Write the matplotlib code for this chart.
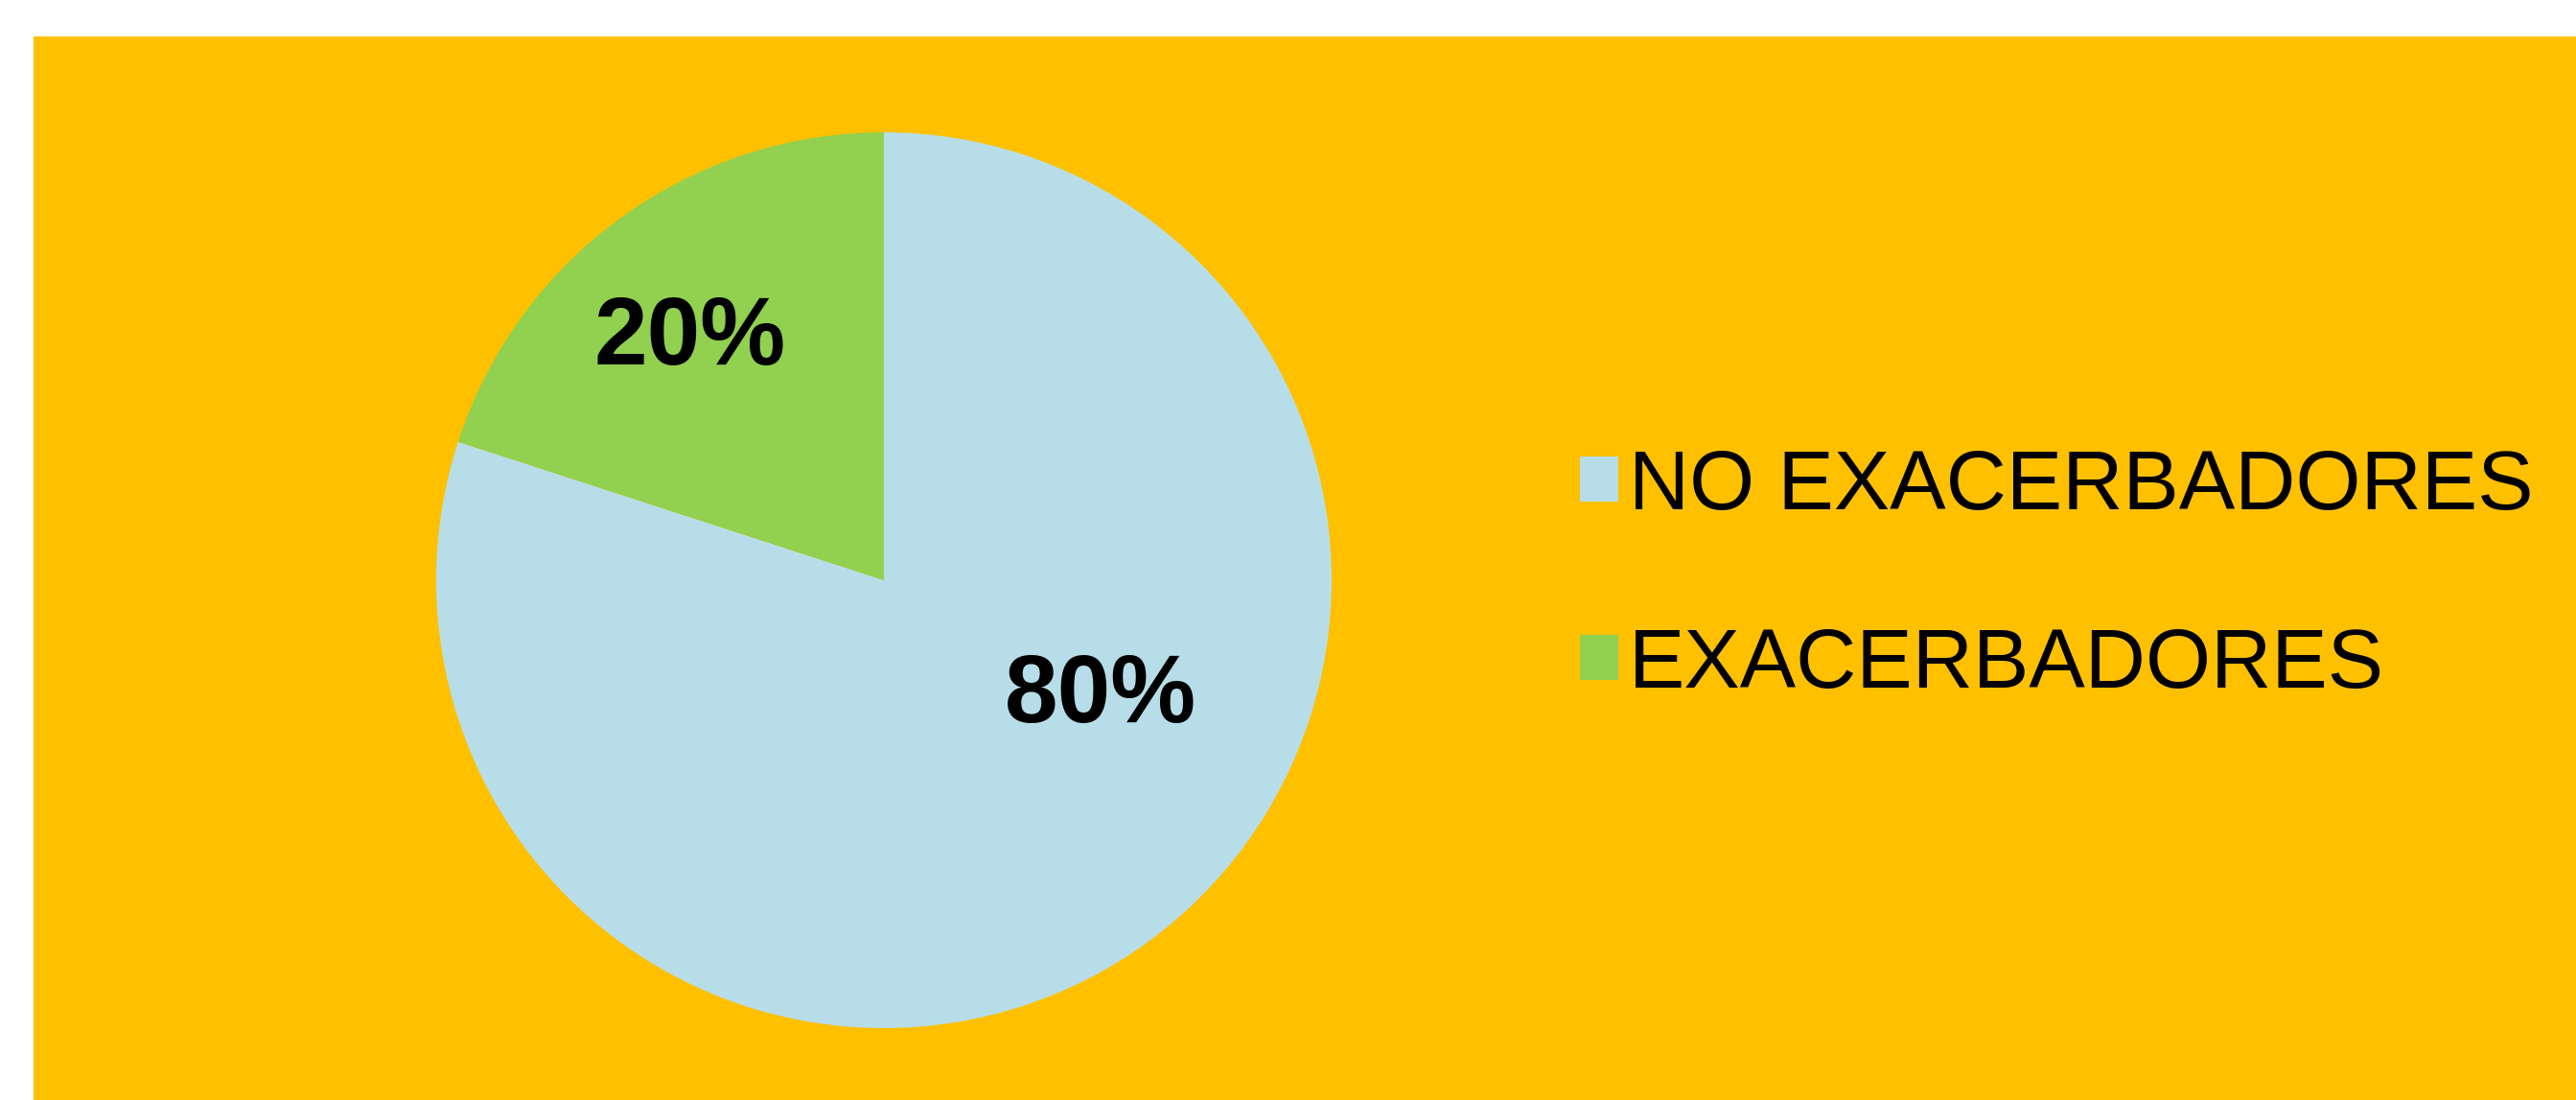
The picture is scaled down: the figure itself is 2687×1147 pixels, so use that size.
"""
Pie chart: exacerbadores vs no exacerbadores
"""
import matplotlib.pyplot as plt
from matplotlib.patches import Rectangle, Patch

labels = ['NO EXACERBADORES', 'EXACERBADORES']
values = [80, 20]
colors = ['#B7DEE8', '#92D050']
pct_pos = [(0.484, -0.238), (-0.433, 0.561)]

W, H = 2687, 1147
plt.rcParams['font.family'] = ['Liberation Sans', 'DejaVu Sans']

fig = plt.figure(figsize=(W / 100, H / 100), dpi=100, facecolor='white')
fig.patches.append(Rectangle((35 / W, 0), 1 - 35 / W, 1 - 38 / H,
                             transform=fig.transFigure, facecolor='#FFC000',
                             edgecolor='none', zorder=-10))

cx, cy, r = 922, 605, 467
ax = fig.add_axes([(cx - r) / W, (H - cy - r) / H, 2 * r / W, 2 * r / H])
ax.set_facecolor('none')
ax.set_zorder(5)
wedges, texts, autotexts = ax.pie(values, colors=colors, startangle=90,
                                  counterclock=False, autopct='%1.0f%%',
                                  wedgeprops=dict(linewidth=0))
for t, pos in zip(autotexts, pct_pos):
    t.set_position(pos)
    t.set_fontsize(72)
    t.set_fontweight('bold')
    t.set_color('black')
    t.set_va('center_baseline')
ax.set_xlim(-1, 1)
ax.set_ylim(-1, 1)
ax.set_aspect('equal')
ax.axis('off')

handles = [Patch(facecolor=c, edgecolor='none') for c in colors]
leg = fig.legend(handles, labels, loc='center left',
                 bbox_to_anchor=(1648 / W, (H - 601) / H), frameon=False,
                 fontsize=63, handlelength=0.46, handleheight=0.46,
                 handletextpad=0.12, labelspacing=1.2, borderpad=0,
                 borderaxespad=0)
leg.set_zorder(6)

fig.savefig('out.png', dpi=100, facecolor='white')
